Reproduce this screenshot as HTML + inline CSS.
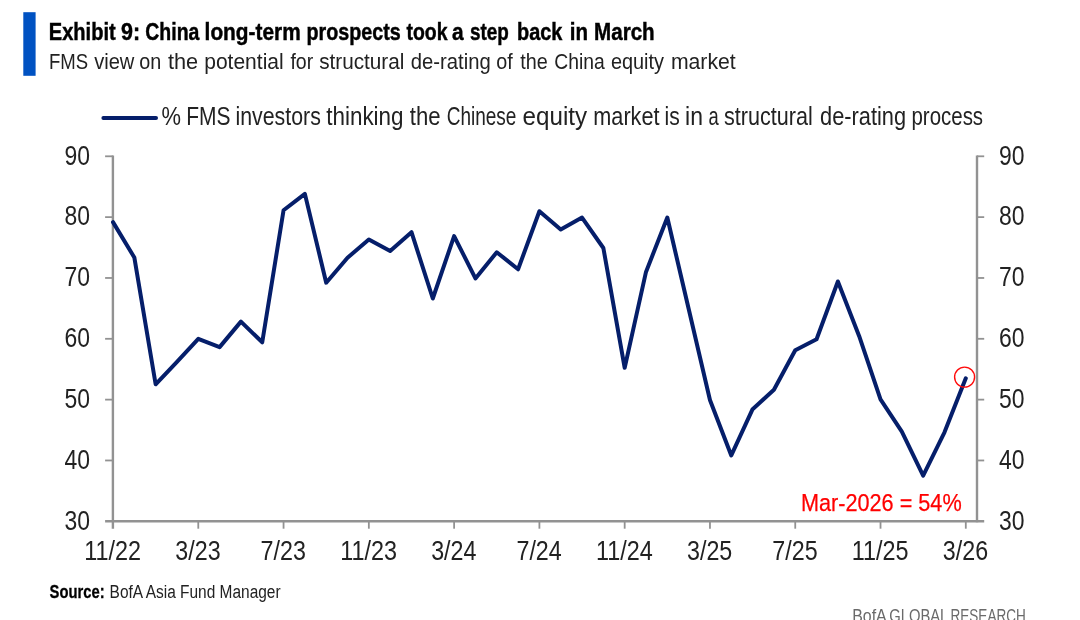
<!DOCTYPE html>
<html lang="en"><head><meta charset="utf-8"><title>Exhibit 9</title>
<style>
html,body{margin:0;padding:0;background:#fff;}
body{width:1080px;height:620px;overflow:hidden;}
svg{display:block;filter:blur(0.45px);font-family:"Liberation Sans",sans-serif;}
</style></head><body>
<svg width="1080" height="620" viewBox="0 0 1080 620">
<rect x="23.3" y="12.2" width="12.3" height="63.6" fill="#0052c2"/>
<g stroke="#929292" stroke-width="2.4" fill="none">
<line x1="112.9" y1="155.4" x2="112.9" y2="528.7"/>
<line x1="977.0" y1="155.4" x2="977.0" y2="522.3"/>
<line x1="105.1" y1="521.3" x2="984.2" y2="521.3"/>
</g>
<g stroke="#929292" stroke-width="1.8" fill="none">
<line x1="105.1" y1="156.30" x2="112.9" y2="156.30"/>
<line x1="977.0" y1="156.30" x2="984.2" y2="156.30"/>
<line x1="105.1" y1="217.13" x2="112.9" y2="217.13"/>
<line x1="977.0" y1="217.13" x2="984.2" y2="217.13"/>
<line x1="105.1" y1="277.97" x2="112.9" y2="277.97"/>
<line x1="977.0" y1="277.97" x2="984.2" y2="277.97"/>
<line x1="105.1" y1="338.80" x2="112.9" y2="338.80"/>
<line x1="977.0" y1="338.80" x2="984.2" y2="338.80"/>
<line x1="105.1" y1="399.63" x2="112.9" y2="399.63"/>
<line x1="977.0" y1="399.63" x2="984.2" y2="399.63"/>
<line x1="105.1" y1="460.47" x2="112.9" y2="460.47"/>
<line x1="977.0" y1="460.47" x2="984.2" y2="460.47"/>
<line x1="198.28" y1="521.3" x2="198.28" y2="528.7"/>
<line x1="283.56" y1="521.3" x2="283.56" y2="528.7"/>
<line x1="368.84" y1="521.3" x2="368.84" y2="528.7"/>
<line x1="454.12" y1="521.3" x2="454.12" y2="528.7"/>
<line x1="539.40" y1="521.3" x2="539.40" y2="528.7"/>
<line x1="624.68" y1="521.3" x2="624.68" y2="528.7"/>
<line x1="709.96" y1="521.3" x2="709.96" y2="528.7"/>
<line x1="795.24" y1="521.3" x2="795.24" y2="528.7"/>
<line x1="880.52" y1="521.3" x2="880.52" y2="528.7"/>
<line x1="965.80" y1="521.3" x2="965.80" y2="528.7"/>
</g>
<g font-size="27.5" fill="#222222">
<text x="64.4" y="164.60" textLength="25.5" lengthAdjust="spacingAndGlyphs">90</text>
<text x="998.9" y="164.60" textLength="25.5" lengthAdjust="spacingAndGlyphs">90</text>
<text x="64.4" y="225.43" textLength="25.5" lengthAdjust="spacingAndGlyphs">80</text>
<text x="998.9" y="225.43" textLength="25.5" lengthAdjust="spacingAndGlyphs">80</text>
<text x="64.4" y="286.27" textLength="25.5" lengthAdjust="spacingAndGlyphs">70</text>
<text x="998.9" y="286.27" textLength="25.5" lengthAdjust="spacingAndGlyphs">70</text>
<text x="64.4" y="347.10" textLength="25.5" lengthAdjust="spacingAndGlyphs">60</text>
<text x="998.9" y="347.10" textLength="25.5" lengthAdjust="spacingAndGlyphs">60</text>
<text x="64.4" y="407.93" textLength="25.5" lengthAdjust="spacingAndGlyphs">50</text>
<text x="998.9" y="407.93" textLength="25.5" lengthAdjust="spacingAndGlyphs">50</text>
<text x="64.4" y="468.77" textLength="25.5" lengthAdjust="spacingAndGlyphs">40</text>
<text x="998.9" y="468.77" textLength="25.5" lengthAdjust="spacingAndGlyphs">40</text>
<text x="64.4" y="529.60" textLength="25.5" lengthAdjust="spacingAndGlyphs">30</text>
<text x="998.9" y="529.60" textLength="25.5" lengthAdjust="spacingAndGlyphs">30</text>
<text x="84.30" y="560.2" font-size="26.8" textLength="56.8" lengthAdjust="spacingAndGlyphs">11/22</text>
<text x="175.33" y="560.2" font-size="26.8" textLength="45.3" lengthAdjust="spacingAndGlyphs">3/23</text>
<text x="260.61" y="560.2" font-size="26.8" textLength="45.3" lengthAdjust="spacingAndGlyphs">7/23</text>
<text x="340.14" y="560.2" font-size="26.8" textLength="56.8" lengthAdjust="spacingAndGlyphs">11/23</text>
<text x="431.17" y="560.2" font-size="26.8" textLength="45.3" lengthAdjust="spacingAndGlyphs">3/24</text>
<text x="516.45" y="560.2" font-size="26.8" textLength="45.3" lengthAdjust="spacingAndGlyphs">7/24</text>
<text x="595.98" y="560.2" font-size="26.8" textLength="56.8" lengthAdjust="spacingAndGlyphs">11/24</text>
<text x="687.01" y="560.2" font-size="26.8" textLength="45.3" lengthAdjust="spacingAndGlyphs">3/25</text>
<text x="772.29" y="560.2" font-size="26.8" textLength="45.3" lengthAdjust="spacingAndGlyphs">7/25</text>
<text x="851.82" y="560.2" font-size="26.8" textLength="56.8" lengthAdjust="spacingAndGlyphs">11/25</text>
<text x="942.85" y="560.2" font-size="26.8" textLength="45.3" lengthAdjust="spacingAndGlyphs">3/26</text>
</g>
<polyline points="113.00,222.15 134.32,257.43 155.64,384.27 176.96,361.76 198.28,338.85 219.60,347.15 240.92,321.61 262.24,342.29 283.56,210.28 304.88,193.86 326.20,282.68 347.52,257.73 368.84,239.49 390.16,251.04 411.48,232.18 432.80,298.49 454.12,236.04 475.44,278.42 496.76,252.26 518.08,269.29 539.40,211.20 560.72,229.45 582.04,217.58 603.36,248.00 624.68,367.84 646.00,271.91 667.32,217.58 688.64,308.83 709.96,400.08 731.28,455.44 752.60,409.21 773.92,389.74 795.24,350.20 816.56,339.25 837.88,281.46 859.20,336.21 880.52,399.47 901.84,431.72 923.16,475.71 944.48,432.32 965.80,378.34" fill="none" stroke="#051e6a" stroke-width="4" stroke-linejoin="round" stroke-linecap="round"/>
<line x1="103.4" y1="117.9" x2="156" y2="117.9" stroke="#051e6a" stroke-width="4" stroke-linecap="round"/>
<text y="125" font-size="26" fill="#222222"><tspan x="161.6" textLength="19.5" lengthAdjust="spacingAndGlyphs">%</tspan> <tspan x="186.2" textLength="44.3" lengthAdjust="spacingAndGlyphs">FMS</tspan> <tspan x="235.5" textLength="85.3" lengthAdjust="spacingAndGlyphs">investors</tspan> <tspan x="326.2" textLength="77.4" lengthAdjust="spacingAndGlyphs">thinking</tspan> <tspan x="409.8" textLength="30.8" lengthAdjust="spacingAndGlyphs">the</tspan> <tspan x="446.7" textLength="69.7" lengthAdjust="spacingAndGlyphs">Chinese</tspan> <tspan x="522.6" textLength="64.5" lengthAdjust="spacingAndGlyphs">equity</tspan> <tspan x="593.3" textLength="66.2" lengthAdjust="spacingAndGlyphs">market</tspan> <tspan x="664.5" textLength="15.2" lengthAdjust="spacingAndGlyphs">is</tspan> <tspan x="685.1" textLength="17.9" lengthAdjust="spacingAndGlyphs">in</tspan> <tspan x="708.4" textLength="10.2" lengthAdjust="spacingAndGlyphs">a</tspan> <tspan x="724.0" textLength="88.7" lengthAdjust="spacingAndGlyphs">structural</tspan> <tspan x="820.1" textLength="86.0" lengthAdjust="spacingAndGlyphs">de-rating</tspan> <tspan x="911.5" textLength="71.6" lengthAdjust="spacingAndGlyphs">process</tspan></text>
<circle cx="964.6" cy="377.1" r="10" fill="none" stroke="#ff0a0a" stroke-width="1.4"/>
<text x="800.9" y="510.7" font-size="24.3" fill="#ff0000" stroke="#ff0000" stroke-width="0.25" textLength="160.8" lengthAdjust="spacingAndGlyphs">Mar-2026 = 54%</text>
<text y="40" font-size="23.6" font-weight="bold" fill="#000" stroke="#000" stroke-width="0.45"><tspan x="48.8" textLength="66.9" lengthAdjust="spacingAndGlyphs">Exhibit</tspan> <tspan x="121.1" textLength="19.1" lengthAdjust="spacingAndGlyphs">9:</tspan> <tspan x="145.3" textLength="54.1" lengthAdjust="spacingAndGlyphs">China</tspan> <tspan x="204.6" textLength="96.1" lengthAdjust="spacingAndGlyphs">long-term</tspan> <tspan x="306.6" textLength="94.1" lengthAdjust="spacingAndGlyphs">prospects</tspan> <tspan x="406.5" textLength="41.0" lengthAdjust="spacingAndGlyphs">took</tspan> <tspan x="452.1" textLength="11.6" lengthAdjust="spacingAndGlyphs">a</tspan> <tspan x="469.9" textLength="38.8" lengthAdjust="spacingAndGlyphs">step</tspan> <tspan x="517.1" textLength="45.3" lengthAdjust="spacingAndGlyphs">back</tspan> <tspan x="569.8" textLength="18.2" lengthAdjust="spacingAndGlyphs">in</tspan> <tspan x="594.1" textLength="60.6" lengthAdjust="spacingAndGlyphs">March</tspan></text>
<text y="68.9" font-size="21.5" fill="#222222"><tspan x="49.0" textLength="39.2" lengthAdjust="spacingAndGlyphs">FMS</tspan> <tspan x="94.2" textLength="40.2" lengthAdjust="spacingAndGlyphs">view</tspan> <tspan x="139.2" textLength="22.0" lengthAdjust="spacingAndGlyphs">on</tspan> <tspan x="167.9" textLength="30.2" lengthAdjust="spacingAndGlyphs">the</tspan> <tspan x="204.2" textLength="79.5" lengthAdjust="spacingAndGlyphs">potential</tspan> <tspan x="290.4" textLength="22.8" lengthAdjust="spacingAndGlyphs">for</tspan> <tspan x="319.2" textLength="85.2" lengthAdjust="spacingAndGlyphs">structural</tspan> <tspan x="410.7" textLength="80.0" lengthAdjust="spacingAndGlyphs">de-rating</tspan> <tspan x="496.2" textLength="16.5" lengthAdjust="spacingAndGlyphs">of</tspan> <tspan x="520.2" textLength="27.5" lengthAdjust="spacingAndGlyphs">the</tspan> <tspan x="554.2" textLength="50.5" lengthAdjust="spacingAndGlyphs">China</tspan> <tspan x="610.9" textLength="53.1" lengthAdjust="spacingAndGlyphs">equity</tspan> <tspan x="670.9" textLength="64.8" lengthAdjust="spacingAndGlyphs">market</tspan></text>
<text x="49.6" y="597.6" font-size="18" fill="#222222"><tspan font-weight="bold" fill="#000" stroke="#000" stroke-width="0.3" textLength="55" lengthAdjust="spacingAndGlyphs">Source:</tspan></text>
<text x="109.6" y="597.6" font-size="18" fill="#222222" textLength="171" lengthAdjust="spacingAndGlyphs">BofA Asia Fund Manager</text>
<text y="622.3" font-size="17.5" fill="#6a6a6a"><tspan x="852.2" textLength="33.6" lengthAdjust="spacingAndGlyphs">BofA</tspan> <tspan x="889.2" textLength="58.6" lengthAdjust="spacingAndGlyphs">GLOBAL</tspan> <tspan x="950.5" textLength="75.3" lengthAdjust="spacingAndGlyphs">RESEARCH</tspan></text>
</svg>
</body></html>
